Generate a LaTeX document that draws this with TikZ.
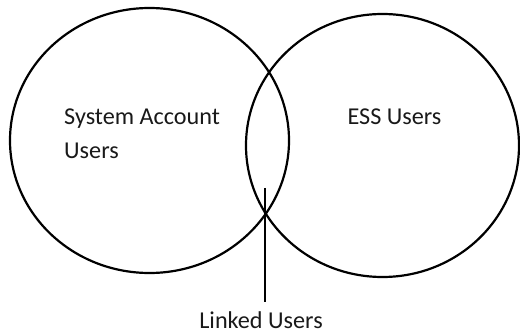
\documentclass[tikz,border=0pt]{standalone}
\usepackage{fontspec}
\setmainfont{Carlito}
\usetikzlibrary{shapes.geometric}
\begin{document}
\begin{tikzpicture}[x=1pt,y=-1pt,
  venn/.style={draw=black, line width=2.2pt, ellipse, inner sep=0pt, outer sep=0pt},
  lbl/.style={text=black!90, font=\fontsize{24.2}{34}\selectfont, inner sep=0pt},
  conn/.style={draw=black, line width=1.1pt}]
\useasboundingbox (0,0) rectangle (520,334);
\node[venn, minimum width=279pt, minimum height=265pt] (sys) at (149.5,140.5) {};
\node[venn, minimum width=273pt, minimum height=263pt] (ess) at (382.5,145.5) {};
\node[lbl, anchor=base west] (systxt) at (64,125) {System Account};
\node[lbl, anchor=base west] (systxt2) at (64,159) {Users};
\node[lbl, anchor=base] (esstxt) at (394.5,125) {ESS Users};
\node[lbl, anchor=base] (linked) at (261,328) {Linked Users};
\coordinate (lk) at (265,188);
\draw[conn] (lk) -- (lk |- 0,302);
\end{tikzpicture}
\end{document}
